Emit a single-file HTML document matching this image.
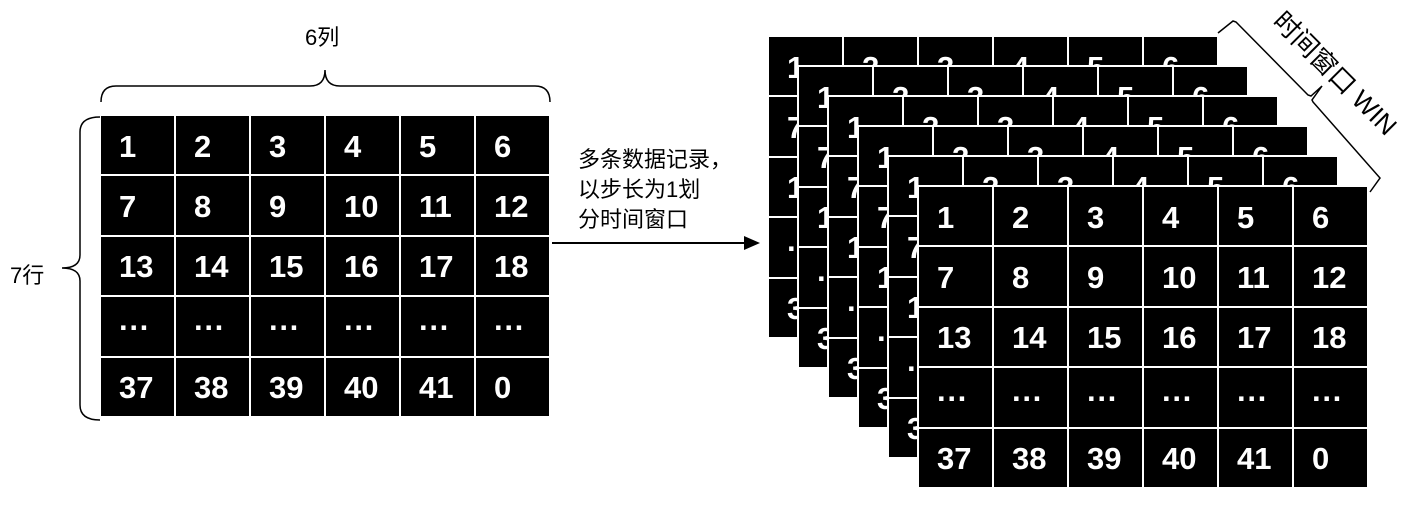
<!DOCTYPE html>
<html><head><meta charset="utf-8"><style>
body{margin:0;width:1416px;height:507px;background:#fff;position:relative;overflow:hidden;font-family:"Liberation Sans","Noto Sans CJK SC",sans-serif}
.g{position:absolute;width:452px;height:304px;box-sizing:border-box;background:#fff;display:grid;grid-template-columns:repeat(6,73px);grid-template-rows:repeat(5,58.4px);gap:2px;padding:2px}
.g div{background:#000;color:#fff;font-weight:bold;font-size:31px;display:flex;align-items:center;padding-left:18px;padding-top:3px;box-sizing:border-box}
.t{position:absolute;font-size:22px;color:#000;z-index:5}
</style></head><body>
<svg width="1416" height="507" style="position:absolute;left:0;top:0;z-index:5">
<path d="M101,102 Q101,86 116,86 L310,86 Q325,86 325,70 Q325,86 340,86 L535,86 Q550,86 550,102" fill="none" stroke="#000" stroke-width="1.5"/>
<path d="M100,117 Q80,117 80,132 L80,255 Q80,268 62,268 Q80,268 80,281 L80,405 Q80,420 100,420" fill="none" stroke="#000" stroke-width="1.5"/>
<line x1="552" y1="243" x2="748" y2="243" stroke="#000" stroke-width="2"/>
<polygon points="760,243 744,236 744,250" fill="#000"/>
<path d="M1218,33 L1233,21 L1236,22 L1308,95 L1311,96 L1322,86 L1312,100 L1313,102 L1380,178 L1370,192" fill="none" stroke="#000" stroke-width="1.5"/>
</svg>
<div class="t" style="left:305px;top:20px">6列</div>
<div class="t" style="left:10px;top:258px">7行</div>
<div class="t" style="left:578px;top:145px;line-height:30px">多条数据记录，<br>以步长为1划<br>分时间窗口</div>
<div class="t" style="left:1292px;top:2px;transform:rotate(45deg);transform-origin:left top;font-size:26px;white-space:nowrap">时间窗口 WIN</div>
<script>
var nums=["1","2","3","4","5","6","7","8","9","10","11","12","13","14","15","16","17","18","…","…","…","…","…","…","37","38","39","40","41","0"];
function grid(x,y){var d=document.createElement('div');d.className='g';d.style.left=x+'px';d.style.top=y+'px';
d.innerHTML=nums.map(function(n){return '<div>'+(n=="…"?"···":n)+'</div>'}).join('');document.body.appendChild(d);}
grid(99,114);
for(var k=0;k<6;k++)grid(767+30*k,35+30*k);
</script>
</body></html>
